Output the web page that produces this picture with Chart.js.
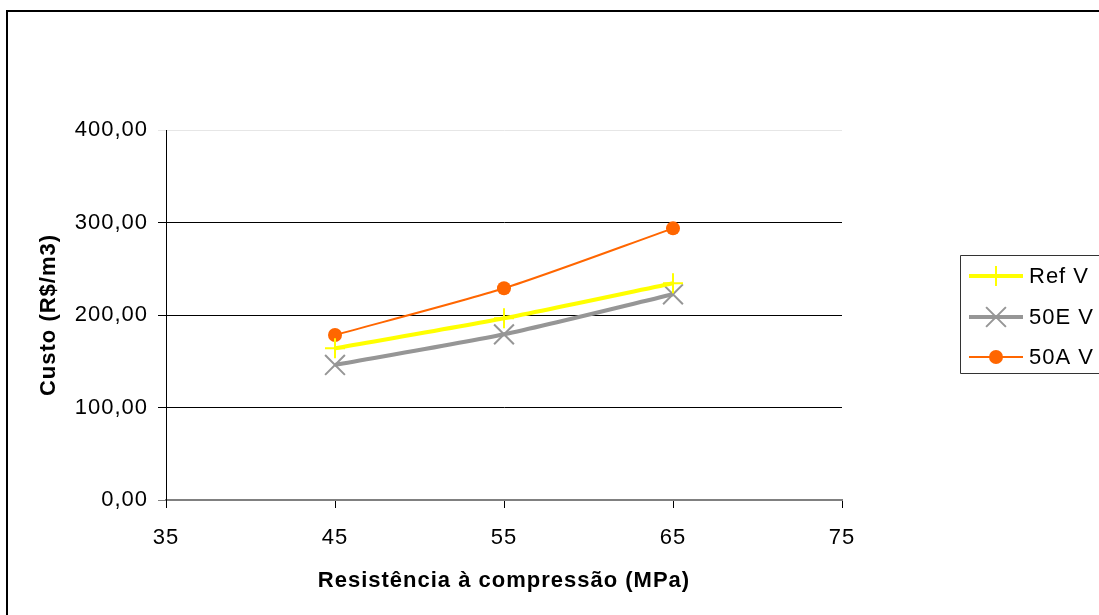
<!DOCTYPE html>
<html>
<head>
<meta charset="utf-8">
<script src="https://cdn.jsdelivr.net/npm/chart.js@4/dist/chart.umd.min.js"></script>
<style>
  html, body { margin: 0; padding: 0; background: #fff; }
  canvas { display: block; }
</style>
</head>
<body>
<canvas id="chart" width="1099" height="615"></canvas>
<script>
// Compressive strength (MPa) and cost per m3 for each mix
const strengthMPa = [45, 55, 65];
const refV = [164.0, 196.4, 234.3];
const e50V = [146.0, 179.1, 222.4];
const a50V = [178.4, 228.9, 293.7];

const seriesNames = ['Ref V', '50E V', '50A V'];
const yTickValues = [0, 100, 200, 300, 400];
const yTickLabels = ['0,00', '100,00', '200,00', '300,00', '400,00'];
const xTickLabels = ['35', '45', '55', '65', '75'];

const FONT = 'Liberation Sans, Arial, Helvetica, sans-serif';

function toPoints(xs, ys) {
  return xs.map((x, i) => ({ x: x, y: ys[i] }));
}

// Slightly wider letter spacing for all canvas text
const spacingPlugin = {
  id: 'letterSpacing',
  beforeInit(chart) { chart.ctx.letterSpacing = '1px'; },
  beforeDraw(chart) { chart.ctx.letterSpacing = '1px'; }
};

// Outer frame and the boxed legend on the right
const framePlugin = {
  id: 'frameAndLegend',
  afterDraw(chart) {
    const ctx = chart.ctx;
    ctx.save();
    // frame
    ctx.strokeStyle = '#000';
    ctx.lineWidth = 2;
    ctx.beginPath();
    ctx.moveTo(7, 615);
    ctx.lineTo(7, 11);
    ctx.lineTo(1099, 11);
    ctx.stroke();

    // legend box
    ctx.lineWidth = 1;
    ctx.strokeStyle = '#333';
    ctx.beginPath();
    ctx.moveTo(1100, 255.5);
    ctx.lineTo(960.5, 255.5);
    ctx.lineTo(960.5, 373.5);
    ctx.lineTo(1100, 373.5);
    ctx.stroke();

    const rows = [276, 317, 357];
    const cx = 996;
    chart.data.datasets.forEach((ds, i) => {
      const y = rows[i];
      ctx.strokeStyle = ds.borderColor;
      ctx.lineWidth = ds.borderWidth;
      ctx.beginPath();
      ctx.moveTo(969, y);
      ctx.lineTo(1023, y);
      ctx.stroke();

      ctx.fillStyle = ds.pointBackgroundColor;
      ctx.strokeStyle = ds.pointBorderColor;
      ctx.lineWidth = ds.pointBorderWidth;
      ctx.beginPath();
      if (ds.pointStyle === 'circle') {
        ctx.arc(cx, y, ds.pointRadius, 0, Math.PI * 2);
        ctx.fill();
      } else if (ds.pointStyle === 'cross') {
        ctx.moveTo(cx, y - ds.pointRadius); ctx.lineTo(cx, y + ds.pointRadius);
        ctx.moveTo(cx - ds.pointRadius, y); ctx.lineTo(cx + ds.pointRadius, y);
        ctx.stroke();
      } else {
        const r = ds.pointRadius * Math.SQRT1_2;
        ctx.moveTo(cx - r, y - r); ctx.lineTo(cx + r, y + r);
        ctx.moveTo(cx - r, y + r); ctx.lineTo(cx + r, y - r);
        ctx.stroke();
      }
      ctx.fillStyle = '#000';
      ctx.font = '22px ' + FONT;
      ctx.textBaseline = 'middle';
      ctx.textAlign = 'left';
      ctx.fillText(ds.label, 1029, y + 1);
    });
    ctx.restore();
  }
};

const chart = new Chart(document.getElementById('chart'), {
  type: 'line',
  data: {
    datasets: [
      {
        label: seriesNames[0],
        data: toPoints(strengthMPa, refV),
        borderColor: '#FFFF00',
        backgroundColor: '#FFFF00',
        borderWidth: 4,
        pointStyle: 'cross',
        pointRadius: 10,
        pointBorderWidth: 2,
        pointBorderColor: '#FFFF00',
        pointBackgroundColor: '#FFFF00',
        tension: 0.25
      },
      {
        label: seriesNames[1],
        data: toPoints(strengthMPa, e50V),
        borderColor: '#969696',
        backgroundColor: '#969696',
        borderWidth: 4,
        pointStyle: 'crossRot',
        pointRadius: 14,
        pointBorderWidth: 2,
        pointBorderColor: '#969696',
        pointBackgroundColor: '#969696',
        tension: 0.25
      },
      {
        label: seriesNames[2],
        data: toPoints(strengthMPa, a50V),
        borderColor: '#FF6600',
        backgroundColor: '#FF6600',
        borderWidth: 2,
        pointStyle: 'circle',
        pointRadius: 7,
        pointBorderWidth: 0,
        pointBorderColor: '#FF6600',
        pointBackgroundColor: '#FF6600',
        tension: 0.25
      }
    ]
  },
  options: {
    responsive: false,
    animation: false,
    layout: { padding: { left: 0, top: 130, right: 257, bottom: 0 } },
    plugins: {
      legend: { display: false },
      tooltip: { enabled: false }
    },
    scales: {
      x: {
        type: 'linear',
        min: 35,
        max: 75,
        afterFit(scale) { scale.height = 115; },
        afterBuildTicks(scale) {
          scale.ticks = xTickLabels.map(v => ({ value: Number(v) }));
        },
        ticks: {
          color: '#000',
          font: { family: FONT, size: 22 },
          padding: 17,
          maxRotation: 0,
          callback: (v, i) => xTickLabels[i]
        },
        grid: {
          drawOnChartArea: false,
          drawTicks: true,
          tickLength: 8,
          color: '#000',
          lineWidth: 1
        },
        border: { color: '#808080', width: 2 },
        title: {
          display: true,
          text: 'Resistência à compressão (MPa)',
          color: '#000',
          font: { family: FONT, size: 22, weight: 'bold' },
          padding: { top: 0, bottom: 21 }
        }
      },
      y: {
        min: 0,
        max: 400,
        afterFit(scale) { scale.width = 166; },
        afterBuildTicks(scale) {
          scale.ticks = yTickValues.map(v => ({ value: v }));
        },
        ticks: {
          color: '#000',
          font: { family: FONT, size: 22 },
          padding: 10,
          callback: (v) => yTickLabels[yTickValues.indexOf(v)]
        },
        grid: {
          drawTicks: true,
          tickLength: 8,
          color: (c) => c.tick && c.tick.value === 400 ? '#e6e6e6' : (c.tick && c.tick.value === 0 ? '#808080' : '#000'),
          lineWidth: 1
        },
        border: { color: '#000', width: 1 },
        title: {
          display: true,
          text: 'Custo (R$/m3)',
          color: '#000',
          font: { family: FONT, size: 22, weight: 'bold' },
          padding: { top: 36, bottom: 0 }
        }
      }
    }
  },
  plugins: [spacingPlugin, framePlugin]
});
</script>
</body>
</html>
